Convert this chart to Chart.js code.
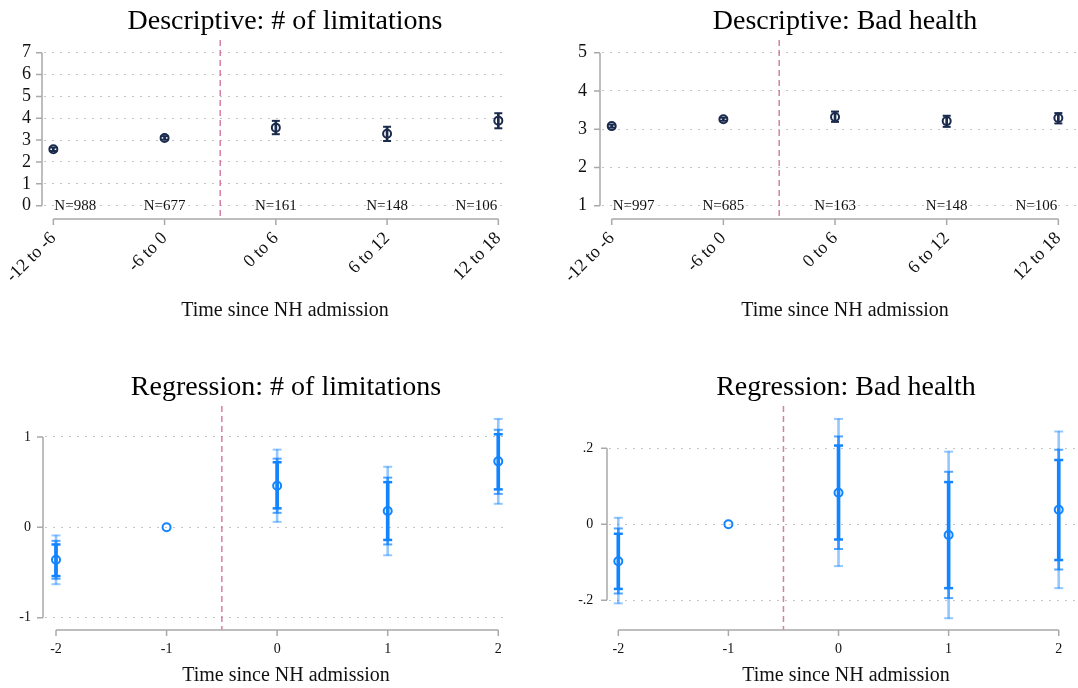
<!DOCTYPE html>
<html>
<head>
<meta charset="utf-8">
<title>NH admission event study</title>
<script src="https://cdn.jsdelivr.net/npm/chart.js@4"></script>
<style>
  html, body { margin: 0; padding: 0; background: #fff; }
  #wrap { position: relative; width: 1078px; height: 688px; overflow: hidden; }
  .panel { position: absolute; width: 539px; height: 344px; }
  canvas { display: block; }
</style>
</head>
<body>
<div id="wrap">
  <div class="panel" style="left:0;top:0"><canvas id="descLim" width="539" height="344"></canvas></div>
  <div class="panel" style="left:539px;top:0"><canvas id="descHealth" width="539" height="344"></canvas></div>
  <div class="panel" style="left:0;top:344px"><canvas id="regLim" width="539" height="344"></canvas></div>
  <div class="panel" style="left:539px;top:344px"><canvas id="regHealth" width="539" height="344"></canvas></div>
</div>
<script>
// ---- Descriptive means with 95% intervals, by 6-month window ----
const descCategories = ['-12 to -6', '-6 to 0', '0 to 6', '6 to 12', '12 to 18'];
const limMean  = [2.58, 3.10, 3.57, 3.29, 3.89];
const limLow   = [2.50, 3.02, 3.27, 2.96, 3.54];
const limHigh  = [2.66, 3.18, 3.88, 3.61, 4.23];
const limN     = [988, 677, 161, 148, 106];
const limYTicks = [0, 1, 2, 3, 4, 5, 6, 7];

const healthMean = [3.08, 3.26, 3.32, 3.21, 3.29];
const healthLow  = [3.04, 3.22, 3.19, 3.06, 3.15];
const healthHigh = [3.12, 3.30, 3.46, 3.35, 3.42];
const healthN    = [997, 685, 163, 148, 106];
const healthYTicks = [1, 2, 3, 4, 5];

// ---- Event-study coefficients (period -1 is the reference) ----
const eventTime = [-2, -1, 0, 1, 2];
const regLimCoef = [-0.36, 0, 0.46, 0.18, 0.73];
const regLimLo99 = [-0.63, null, 0.06, -0.31, 0.26];
const regLimHi99 = [-0.09, null, 0.86, 0.67, 1.20];
const regLimLo95 = [-0.57, null, 0.16, -0.19, 0.37];
const regLimHi95 = [-0.15, null, 0.76, 0.55, 1.08];
const regLimLo90 = [-0.54, null, 0.21, -0.14, 0.42];
const regLimHi90 = [-0.19, null, 0.72, 0.50, 1.03];
const regLimYTicks = [-1, 0, 1];

const regHealthCoef = [-0.097, 0, 0.083, -0.028, 0.038];
const regHealthLo99 = [-0.208, null, -0.110, -0.247, -0.168];
const regHealthHi99 = [0.017, null, 0.277, 0.191, 0.244];
const regHealthLo95 = [-0.182, null, -0.065, -0.194, -0.119];
const regHealthHi95 = [-0.011, null, 0.231, 0.138, 0.196];
const regHealthLo90 = [-0.170, null, -0.040, -0.168, -0.094];
const regHealthHi90 = [-0.025, null, 0.207, 0.111, 0.169];
const regHealthYTicks = [-0.2, 0, 0.2];

const xTitle = 'Time since NH admission';

// ---- Styling ----
const SERIF = "'Liberation Serif', 'Times New Roman', Times, serif";
const NAVY = '#1b2b4d';
const BLUE = 'rgb(18,132,255)';
const BLUE_95 = 'rgba(18,132,255,0.72)';
const BLUE_99 = 'rgba(18,132,255,0.45)';
const AXIS_GREY = '#a9a9a9';
const GRID_GREY = '#c4c4c4';
const REF_PINK = 'rgba(205,105,150,0.85)';

Chart.defaults.font.family = SERIF;
Chart.defaults.color = '#111';

// Panel frame: headings centred on the plot region, offset y axis spanning
// its ticks, x axis spanning first..last category, dashed admission line and
// optional sample-size labels.
function frame(cfg) {
  return {
    id: 'frame',
    beforeDatasetsDraw(chart) {
      const { ctx, chartArea: a, scales: { x } } = chart;
      const px = x.getPixelForValue(cfg.refLine);
      ctx.save();
      ctx.strokeStyle = REF_PINK;
      ctx.lineWidth = 1.5;
      ctx.setLineDash([6, 4]);
      ctx.beginPath();
      ctx.moveTo(px, a.top);
      ctx.lineTo(px, a.bottom);
      ctx.stroke();
      ctx.restore();
    },
    afterDraw(chart) {
      const { ctx, chartArea: a, scales: { x, y } } = chart;
      ctx.save();
      // headings
      ctx.textAlign = 'center';
      ctx.textBaseline = 'middle';
      ctx.fillStyle = '#000';
      ctx.font = '28px ' + SERIF;
      ctx.fillText(cfg.title, cfg.textCenter, cfg.titleY);
      ctx.fillStyle = '#111';
      ctx.font = '20px ' + SERIF;
      ctx.fillText(xTitle, cfg.textCenter, cfg.xTitleY);

      ctx.strokeStyle = AXIS_GREY;
      ctx.lineWidth = 1.5;
      ctx.setLineDash([]);
      // y axis
      const ax = a.left - 2;
      const yt = cfg.yTicks;
      const y0 = y.getPixelForValue(yt[0]);
      const y1 = y.getPixelForValue(yt[yt.length - 1]);
      ctx.beginPath();
      ctx.moveTo(ax, y0);
      ctx.lineTo(ax, y1);
      yt.forEach(v => {
        const py = y.getPixelForValue(v);
        ctx.moveTo(ax - 6, py);
        ctx.lineTo(ax, py);
      });
      ctx.stroke();
      // x axis
      const ay = a.bottom;
      const xt = cfg.xTicks;
      ctx.beginPath();
      ctx.moveTo(x.getPixelForValue(xt[0]), ay);
      ctx.lineTo(x.getPixelForValue(xt[xt.length - 1]), ay);
      xt.forEach(v => {
        const pxx = x.getPixelForValue(v);
        ctx.moveTo(pxx, ay);
        ctx.lineTo(pxx, ay + 6);
      });
      ctx.stroke();
      // sample sizes, kept inside the first/last category
      if (cfg.nLabels) {
        ctx.fillStyle = '#111';
        ctx.font = '15px ' + SERIF;
        ctx.textBaseline = 'middle';
        const py = y.getPixelForValue(cfg.nAt);
        const last = cfg.nLabels.length - 1;
        cfg.nLabels.forEach((n, i) => {
          let px = x.getPixelForValue(xt[i]);
          if (i === 0) { ctx.textAlign = 'left'; px += 1; }
          else if (i === last) { ctx.textAlign = 'right'; px -= 1; }
          else ctx.textAlign = 'center';
          ctx.fillText('N=' + n, px, py);
        });
      }
      ctx.restore();
    }
  };
}

// Interval line drawn as a thin floating bar.
function rangeBar(xs, lo, hi, color, thickness, order) {
  const data = [];
  xs.forEach((x, i) => { if (lo[i] !== null) data.push({ x: x, y: [lo[i], hi[i]] }); });
  return {
    type: 'bar', data, backgroundColor: color, borderWidth: 0,
    barThickness: thickness, grouped: false, order
  };
}

// Interval end caps drawn as short horizontal line markers.
function caps(xs, lo, hi, color, width, radius, order) {
  const data = [];
  xs.forEach((x, i) => {
    if (lo[i] !== null) { data.push({ x: x, y: lo[i] }); data.push({ x: x, y: hi[i] }); }
  });
  return {
    type: 'scatter', data, pointStyle: 'line', pointRadius: radius,
    borderColor: color, borderWidth: width, backgroundColor: color, order
  };
}

function marker(xs, vals, color, radius, order) {
  return {
    type: 'scatter', data: xs.map((x, i) => ({ x: x, y: vals[i] })),
    pointStyle: 'circle', pointRadius: radius, borderWidth: 2,
    borderColor: color, backgroundColor: 'rgba(255,255,255,0)', order
  };
}

function build(id, p) {
  new Chart(document.getElementById(id), {
    type: 'scatter',
    data: { datasets: p.datasets },
    options: {
      responsive: false,
      animation: false,
      events: [],
      clip: false,
      layout: { autoPadding: false, padding: { left: 0, right: p.padRight, top: p.padTop, bottom: 0 } },
      plugins: {
        legend: { display: false },
        tooltip: { enabled: false },
        title: { display: false }
      },
      scales: {
        x: {
          type: 'linear', min: p.xMin, max: p.xMax, offset: false,
          afterBuildTicks: s => { s.ticks = p.xTicks.map(v => ({ value: v })); },
          afterFit: s => { s.height = p.xHeight; s.paddingLeft = 0; s.paddingRight = 0; },
          grid: { display: false, offset: false },
          border: { display: false },
          ticks: {
            autoSkip: false, padding: p.xPad,
            minRotation: p.rot, maxRotation: p.rot,
            font: { size: p.xFont }, color: '#111',
            callback: p.xLabel
          },
          title: { display: false }
        },
        y: {
          type: 'linear', min: p.yMin, max: p.yMax,
          afterBuildTicks: s => { s.ticks = p.yTicks.map(v => ({ value: v })); },
          afterFit: s => { s.width = p.yWidth; s.paddingTop = 0; s.paddingBottom = 0; },
          grid: { color: GRID_GREY, lineWidth: 1, drawTicks: false },
          border: { display: false, dash: [2, 6] },
          ticks: { padding: p.yPad, font: { size: p.yFont }, color: '#111', callback: p.yLabel }
        }
      }
    },
    plugins: [frame({
      title: p.title, textCenter: p.textCenter, titleY: p.titleY, xTitleY: p.xTitleY,
      refLine: p.refLine, xTicks: p.xTicks, yTicks: p.yTicks, nLabels: p.nLabels, nAt: p.nAt
    })]
  });
}

const descIdx = descCategories.map((c, i) => i);
const descDatasets = (mean, lo, hi) => [
  marker(descIdx, mean, NAVY, 4, 0),
  caps(descIdx, lo, hi, NAVY, 2, 4, 1),
  rangeBar(descIdx, lo, hi, NAVY, 2, 2)
];
const regDatasets = (coef, l99, h99, l95, h95, l90, h90) => [
  marker(eventTime, coef, BLUE, 4, 0),
  caps(eventTime, l90, h90, BLUE, 2.5, 4.5, 1),
  caps(eventTime, l95, h95, BLUE_95, 2, 4.5, 2),
  caps(eventTime, l99, h99, BLUE_99, 2, 4.5, 3),
  rangeBar(eventTime, l90, h90, BLUE, 3, 4),
  rangeBar(eventTime, l95, h95, BLUE_95, 2, 5),
  rangeBar(eventTime, l99, h99, BLUE_99, 2, 6)
];
const regTick = v => (v === 0 ? '0' : String(v).replace('0.', '.'));

build('descLim', {
  title: 'Descriptive: # of limitations', textCenter: 285, titleY: 21.5, xTitleY: 311,
  datasets: descDatasets(limMean, limLow, limHigh),
  padRight: 31, padTop: 40,
  xMin: -0.084, xMax: 4.087, xTicks: descIdx, xHeight: 125, xPad: 1, rot: 45, xFont: 18,
  xLabel: v => descCategories[v],
  yMin: -0.61, yMax: 7.58, yTicks: limYTicks, yWidth: 44, yPad: 13, yFont: 18, yLabel: v => String(v),
  refLine: 1.5, nLabels: limN, nAt: 0
});

build('descHealth', {
  title: 'Descriptive: Bad health', textCenter: 306, titleY: 21.5, xTitleY: 311,
  datasets: descDatasets(healthMean, healthLow, healthHigh),
  padRight: 0, padTop: 40,
  xMin: -0.087, xMax: 4.176, xTicks: descIdx, xHeight: 125, xPad: 1, rot: 45, xFont: 18,
  xLabel: v => descCategories[v],
  yMin: 0.652, yMax: 5.33, yTicks: healthYTicks, yWidth: 63, yPad: 15, yFont: 18, yLabel: v => String(v),
  refLine: 1.5, nLabels: healthN, nAt: 1
});

build('regLim', {
  title: 'Regression: # of limitations', textCenter: 286, titleY: 44, xTitleY: 332,
  datasets: regDatasets(regLimCoef, regLimLo99, regLimHi99, regLimLo95, regLimHi95, regLimLo90, regLimHi90),
  padRight: 31, padTop: 62,
  xMin: -2.0995, xMax: 2.088, xTicks: eventTime, xHeight: 58, xPad: 3, rot: 0, xFont: 14,
  xLabel: v => String(v),
  yMin: -1.137, yMax: 1.343, yTicks: regLimYTicks, yWidth: 45, yPad: 14, yFont: 14, yLabel: regTick,
  refLine: -0.5
});

build('regHealth', {
  title: 'Regression: Bad health', textCenter: 307, titleY: 44, xTitleY: 332,
  datasets: regDatasets(regHealthCoef, regHealthLo99, regHealthHi99, regHealthLo95, regHealthHi95, regHealthLo90, regHealthHi90),
  padRight: 0, padTop: 62,
  xMin: -2.0845, xMax: 2.175, xTicks: eventTime, xHeight: 58, xPad: 3, rot: 0, xFont: 14,
  xLabel: v => String(v),
  yMin: -0.278, yMax: 0.311, yTicks: regHealthYTicks, yWidth: 70, yPad: 15.7, yFont: 14, yLabel: regTick,
  refLine: -0.5
});
</script>
</body>
</html>
